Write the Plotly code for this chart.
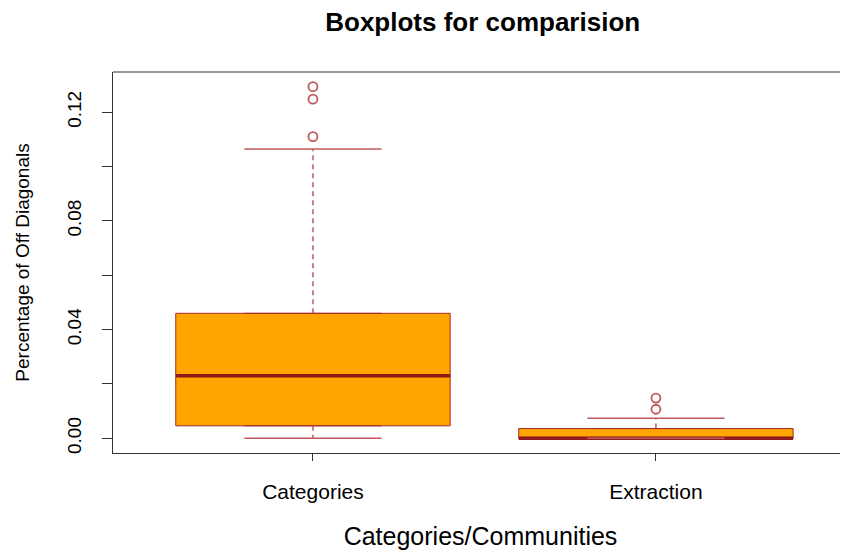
import plotly.graph_objects as go

# ---- data ----
categories = ["Categories", "Extraction"]
q1 = [0.0046, 0.0]
median = [0.0230, 0.0]
q3 = [0.0460, 0.0036]
lower_whisker = [0.0, 0.0]
upper_whisker = [0.1065, 0.0074]
outliers = [[0.1110, 0.1248, 0.1294], [0.0107, 0.0148]]

y_tick_values = [0.00, 0.02, 0.04, 0.06, 0.08, 0.10, 0.12]
y_tick_labels = ["0.00", "", "0.04", "", "0.08", "", "0.12"]

# ---- styling ----
FONT = "Liberation Sans, Arial, sans-serif"
BOX_FILL = "#FFA500"
BOX_LINE = "#A52A2A"
MEDIAN_COLOR = "#8E1B1B"
WHISKER_COLOR = "#C05A5A"
BOX_WIDTH = 0.8
CAP_WIDTH = 0.4

fig = go.Figure()
positions = list(range(1, len(categories) + 1))

for i, pos in enumerate(positions):
    # box body
    fig.add_trace(go.Box(
        x=[pos], q1=[q1[i]], median=[median[i]], q3=[q3[i]],
        lowerfence=[q1[i]], upperfence=[q3[i]],
        width=BOX_WIDTH, fillcolor=BOX_FILL,
        line=dict(color=BOX_LINE, width=1),
        boxpoints=False, showlegend=False, hoverinfo="skip",
    ))
    # thick median
    fig.add_trace(go.Scatter(
        x=[pos - BOX_WIDTH / 2, pos + BOX_WIDTH / 2], y=[median[i], median[i]],
        mode="lines", line=dict(color=MEDIAN_COLOR, width=3.5),
        showlegend=False, hoverinfo="skip",
    ))
    # dashed whiskers
    for a, b in ((q3[i], upper_whisker[i]), (q1[i], lower_whisker[i])):
        fig.add_trace(go.Scatter(
            x=[pos, pos], y=[a, b], mode="lines",
            line=dict(color=WHISKER_COLOR, width=1.5, dash="5px,4px"),
            showlegend=False, hoverinfo="skip",
        ))
    # caps
    for v in (upper_whisker[i], lower_whisker[i]):
        fig.add_trace(go.Scatter(
            x=[pos - CAP_WIDTH / 2, pos + CAP_WIDTH / 2], y=[v, v], mode="lines",
            line=dict(color=WHISKER_COLOR, width=1.5),
            showlegend=False, hoverinfo="skip",
        ))
    # outliers
    fig.add_trace(go.Scatter(
        x=[pos] * len(outliers[i]), y=outliers[i], mode="markers",
        marker=dict(symbol="circle-open", size=9, color=WHISKER_COLOR,
                    line=dict(width=1.8, color=WHISKER_COLOR)),
        showlegend=False, hoverinfo="skip",
    ))

fig.update_layout(
    width=840, height=542,
    margin=dict(l=105, r=0, t=64, b=97),
    paper_bgcolor="white", plot_bgcolor="white",
    font=dict(family=FONT, size=21, color="black"),
    title=dict(text="<b>Boxplots for comparision</b>", x=0.503, xref="paper",
               xanchor="center", y=1 - 14 / 542, yref="container", yanchor="middle",
               font=dict(size=26, family=FONT, color="black")),
    xaxis=dict(range=[0.417, 2.560], tickmode="array", tickvals=positions,
               ticktext=categories, showgrid=False, zeroline=False,
               showline=True, linecolor="#333", linewidth=1.2,
               ticks="outside", ticklen=7, tickcolor="#333",
               ticklabelstandoff=13, automargin=False,
               title=dict(text="Categories/Communities", standoff=31)),
    yaxis=dict(range=[-0.0054, 0.1348], tickmode="array", tickvals=y_tick_values,
               ticktext=y_tick_labels, tickangle=-90, showgrid=False, zeroline=False,
               showline=True, linecolor="#333", linewidth=1.2,
               ticks="outside", ticklen=10, tickcolor="#333",
               ticklabelstandoff=13, automargin=False,
               tickfont=dict(size=19),
               title=dict(text="Percentage of Off Diagonals", standoff=29,
                          font=dict(size=19))),
    shapes=[dict(type="line", xref="paper", yref="paper", x0=0, x1=1, y0=1, y1=1,
                 line=dict(color="#333", width=1.2))],
)

fig.write_html("out.html")
